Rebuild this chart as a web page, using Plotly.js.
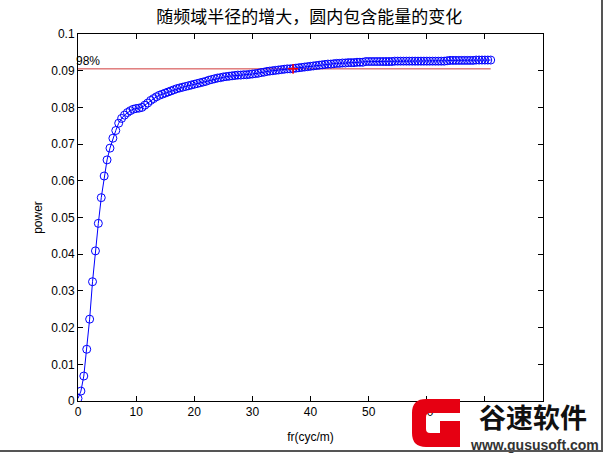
<!DOCTYPE html>
<html>
<head>
<meta charset="utf-8">
<script src="https://cdn.plot.ly/plotly-3.0.1.min.js"></script>
<style>
  html, body { margin: 0; padding: 0; background: #ffffff; }
  #wrap { position: relative; width: 604px; height: 454px; }
  #chart { position: absolute; left: 0; top: 0; width: 604px; height: 454px; }
  #frame { position: absolute; left: 0; top: 0; width: 601px; height: 450px;
           border-right: 2px solid #555; border-bottom: 2px solid #555; pointer-events: none; }
</style>
</head>
<body>
<div id="wrap">
  <div id="chart"></div>
  <div id="frame"></div>
</div>
<script>
// ---- data ----
const radius = [
  0, 0.5, 1, 1.5, 2, 2.5, 3, 3.5, 4, 4.5, 5, 5.5, 6, 6.5, 7,
  7.5, 8, 8.5, 9, 9.5, 10, 10.5, 11, 11.5, 12,
  12.5, 13, 13.5, 14, 14.5, 15, 15.5, 16, 16.5, 17,
  17.5, 18, 18.5, 19, 19.5, 20, 20.5, 21, 21.5, 22,
  22.5, 23, 23.5, 24, 24.5, 25, 25.5, 26, 26.5, 27,
  27.5, 28, 28.5, 29, 29.5, 30, 30.5, 31, 31.5, 32,
  32.5, 33, 33.5, 34, 34.5, 35, 35.5, 36, 36.5, 37,
  37.5, 38, 38.5, 39, 39.5, 40, 40.5, 41, 41.5, 42,
  42.5, 43, 43.5, 44, 44.5, 45, 45.5, 46, 46.5, 47,
  47.5, 48, 48.5, 49, 49.5, 50, 50.5, 51, 51.5, 52,
  52.5, 53, 53.5, 54, 54.5, 55, 55.5, 56, 56.5, 57,
  57.5, 58, 58.5, 59, 59.5, 60, 60.5, 61, 61.5, 62,
  62.5, 63, 63.5, 64, 64.5, 65, 65.5, 66, 66.5, 67,
  67.5, 68, 68.5, 69, 69.5, 70, 70.5, 71
];
const power = [
  0.0007, 0.0027, 0.0068, 0.0141, 0.0223, 0.0325, 0.0409, 0.0484, 0.0554, 0.0613, 0.0657, 0.0689, 0.0716, 0.0737, 0.0757,
  0.0770, 0.0779, 0.0786, 0.0791, 0.0795, 0.0797, 0.0798, 0.0800, 0.0806, 0.0812,
  0.0819, 0.0824, 0.0829, 0.0833, 0.0836, 0.0839, 0.0842, 0.0845, 0.0848, 0.0851,
  0.0853, 0.0855, 0.0857, 0.0859, 0.0861, 0.0863, 0.0865, 0.0867, 0.0869, 0.0871,
  0.0874, 0.0876, 0.0878, 0.0880, 0.0881, 0.0883, 0.0884, 0.0885, 0.0886, 0.0887,
  0.0888, 0.0888, 0.0889, 0.0889, 0.0890, 0.0891, 0.0892, 0.0893, 0.0895, 0.0896,
  0.0898, 0.0899, 0.0900, 0.0901, 0.0902, 0.0903, 0.0904, 0.0905, 0.0905, 0.0906,
  0.0907, 0.0908, 0.0909, 0.0910, 0.0911, 0.0912, 0.0913, 0.0914, 0.0915, 0.0916,
  0.0917, 0.0918, 0.0918, 0.0919, 0.0920, 0.0920, 0.0921, 0.0921, 0.0922, 0.0922,
  0.0922, 0.0923, 0.0923, 0.0923, 0.0925, 0.0925, 0.0925, 0.0925, 0.0925, 0.0925,
  0.0925, 0.0925, 0.0925, 0.0925, 0.0926, 0.0926, 0.0926, 0.0926, 0.0926, 0.0926,
  0.0926, 0.0926, 0.0926, 0.0926, 0.0926, 0.0926, 0.0926, 0.0926, 0.0926, 0.0926,
  0.0926, 0.0926, 0.0927, 0.0928, 0.0928, 0.0928, 0.0928, 0.0928, 0.0928, 0.0928,
  0.0928, 0.0928, 0.0929, 0.0929, 0.0929, 0.0929, 0.0929, 0.0929
];
const refX = [0, 71];
const refY = [0.0905, 0.0905];
const crossX = [37];
const crossY = [0.0905];
const refLabel = '98%';
const xTicks = [0, 10, 20, 30, 40, 50, 60, 70, 80];
// 70 and 80 are hidden under the watermark in the reference
const xTickText = ['0', '10', '20', '30', '40', '50', '60', '', ''];
const yTicks = [0, 0.01, 0.02, 0.03, 0.04, 0.05, 0.06, 0.07, 0.08, 0.09, 0.1];
const yTickText = ['0', '0.01', '0.02', '0.03', '0.04', '0.05', '0.06', '0.07', '0.08', '0.09', '0.1'];
const titleText = '随频域半径的增大，圆内包含能量的变化';
const xTitle = 'fr(cyc/m)';
const yTitle = 'power';
const logoName = '谷速软件';
const logoUrl = 'www.gususoft.com';

const tickFont = { family: 'Liberation Sans, Arial, sans-serif', size: 12, color: '#000' };

// plot-area geometry (for placing the watermark decoration)
const M = { l: 78, r: 61, t: 34, b: 53 };
const W = 604, H = 454;
const PW = W - M.l - M.r, PH = H - M.t - M.b;
function pxX(x) { return (x - M.l) / PW; }
function pxY(y) { return (H - M.b - y) / PH; }
function px(x, y) { return pxX(x).toFixed(4) + ',' + pxY(y).toFixed(4); }
// decorative "G" logo outline, in page pixels
const gPath = 'M' + px(460, 399) + ' L' + px(426, 399) + ' Q' + px(412, 399) + ' ' + px(412, 413) +
  ' L' + px(412, 433) + ' Q' + px(412, 447) + ' ' + px(426, 447) + ' L' + px(460, 447) +
  ' L' + px(460, 421) + ' L' + px(440, 421) + ' L' + px(440, 433) + ' L' + px(430, 433) +
  ' Q' + px(426, 433) + ' ' + px(426, 429) + ' L' + px(426, 417) + ' Q' + px(426, 413) + ' ' + px(430, 413) +
  ' L' + px(460, 413) + ' Z';

const traces = [
  {
    x: refX, y: refY, mode: 'lines', type: 'scatter',
    line: { color: '#d03a3a', width: 1 }, hoverinfo: 'skip', showlegend: false
  },
  {
    x: radius, y: power, mode: 'lines+markers', type: 'scatter',
    line: { color: '#0000ff', width: 1 },
    marker: { symbol: 'circle-open', size: 8, color: '#0000ff', line: { width: 1, color: '#0000ff' } },
    showlegend: false
  },
  {
    x: crossX, y: crossY, mode: 'markers', type: 'scatter',
    marker: { symbol: 'cross-thin-open', size: 7, color: '#ff0000', line: { width: 1.5, color: '#ff0000' } },
    showlegend: false
  }
];

const axisCommon = {
  showline: true, linecolor: '#000', linewidth: 1, mirror: 'ticks',
  ticks: 'inside', ticklen: 5, tickcolor: '#000', tickwidth: 1,
  showgrid: false, zeroline: false, tickfont: tickFont, automargin: false
};

const layout = {
  width: W, height: H,
  paper_bgcolor: '#ffffff', plot_bgcolor: '#ffffff',
  margin: M,
  title: {
    text: titleText, x: 0.512, xanchor: 'center', y: 0.962, yanchor: 'middle',
    font: { family: 'Noto Sans CJK SC, sans-serif', size: 17, color: '#000' }
  },
  xaxis: Object.assign({}, axisCommon, {
    range: [0, 80], tickvals: xTicks, ticktext: xTickText,
    title: { text: xTitle, standoff: 14, font: { family: 'Liberation Sans, Arial, sans-serif', size: 12, color: '#000' } }
  }),
  yaxis: Object.assign({}, axisCommon, {
    range: [0, 0.1], tickvals: yTicks, ticktext: yTickText,
    title: { text: yTitle, standoff: 6, font: { family: 'Liberation Sans, Arial, sans-serif', size: 12, color: '#000' } }
  }),
  shapes: [
    { type: 'rect', xref: 'paper', yref: 'paper', x0: pxX(461), x1: pxX(604), y0: pxY(402), y1: pxY(454),
      fillcolor: '#ffffff', line: { width: 0 }, layer: 'above' },
    { type: 'path', xref: 'paper', yref: 'paper', path: gPath, fillcolor: '#e60012', line: { width: 0 }, layer: 'above' }
  ],
  annotations: [
    {
      x: refX[0], y: refY[0], xref: 'x', yref: 'y', text: refLabel, showarrow: false,
      xanchor: 'left', yanchor: 'bottom', xshift: -4, yshift: -1,
      font: { family: 'Liberation Sans, Arial, sans-serif', size: 12, color: '#000' }
    },
    {
      x: pxX(533), y: pxY(416), xref: 'paper', yref: 'paper', text: '<b>' + logoName + '</b>', showarrow: false,
      xanchor: 'center', yanchor: 'middle',
      font: { family: 'Noto Sans CJK SC, sans-serif', size: 27, color: '#111', weight: 900 }
    },
    {
      x: pxX(534), y: pxY(445), xref: 'paper', yref: 'paper', text: '<b>' + logoUrl + '</b>', showarrow: false,
      xanchor: 'center', yanchor: 'middle',
      font: { family: 'Liberation Sans, Arial, sans-serif', size: 14, color: '#333' }
    }
  ]
};

Plotly.newPlot('chart', traces, layout, { displayModeBar: false, staticPlot: true });
</script>
</body>
</html>
